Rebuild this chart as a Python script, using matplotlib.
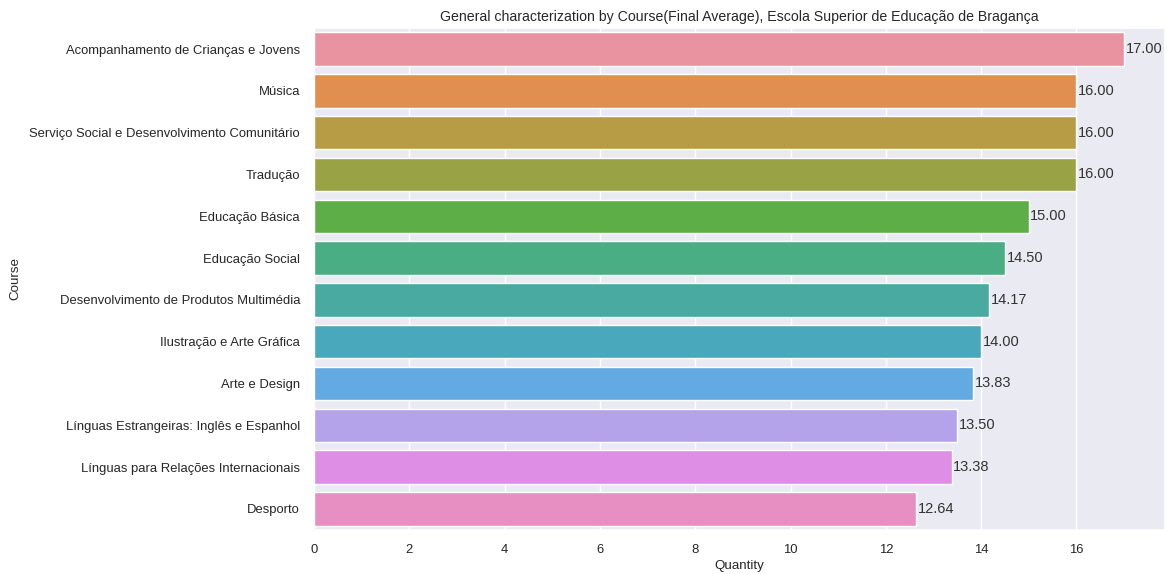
import matplotlib
matplotlib.use("Agg")
import matplotlib.pyplot as plt
import seaborn as sns
import pandas as pd

courses = [
    "Acompanhamento de Crianças e Jovens",
    "Música",
    "Serviço Social e Desenvolvimento Comunitário",
    "Tradução",
    "Educação Básica",
    "Educação Social",
    "Desenvolvimento de Produtos Multimédia",
    "Ilustração e Arte Gráfica",
    "Arte e Design",
    "Línguas Estrangeiras: Inglês e Espanhol",
    "Línguas para Relações Internacionais",
    "Desporto",
]
averages = [17.00, 16.00, 16.00, 16.00, 15.00, 14.50, 14.17, 14.00, 13.83, 13.50, 13.38, 12.64]

# husl-like colours as they look in the original (lighter, desaturated)
colors = ["#EA93A0", "#E18F50", "#B79C45", "#99A244", "#5EAE48", "#4AAE85",
          "#48AAA0", "#4AA8BC", "#64AAE2", "#B4A3EA", "#DF8EE6", "#E78EC2"]

df = pd.DataFrame({"Course": courses, "Quantity": averages})

sns.set_theme(style="darkgrid")
plt.rcParams["font.family"] = ["Liberation Sans", "DejaVu Sans"]

fig, ax = plt.subplots(figsize=(11.67, 5.74), dpi=100)
sns.barplot(data=df, x="Quantity", y="Course", hue="Course", palette=colors,
            saturation=1, legend=False, ax=ax)

for c in ax.containers:
    ax.bar_label(c, fmt="%.2f", fontsize=10.5, color="#333333", padding=1)

ax.set_title("General characterization by Course(Final Average), Escola Superior de Educação de Bragança",
             fontsize=10.2, pad=5)
ax.set_xlabel("Quantity", fontsize=9.6, labelpad=3)
ax.set_ylabel("Course", fontsize=9.6, labelpad=6)
ax.tick_params(labelsize=9.4, pad=4)

fig.subplots_adjust(left=0.269, right=0.998, top=0.951, bottom=0.077)
fig.savefig("out.png")
